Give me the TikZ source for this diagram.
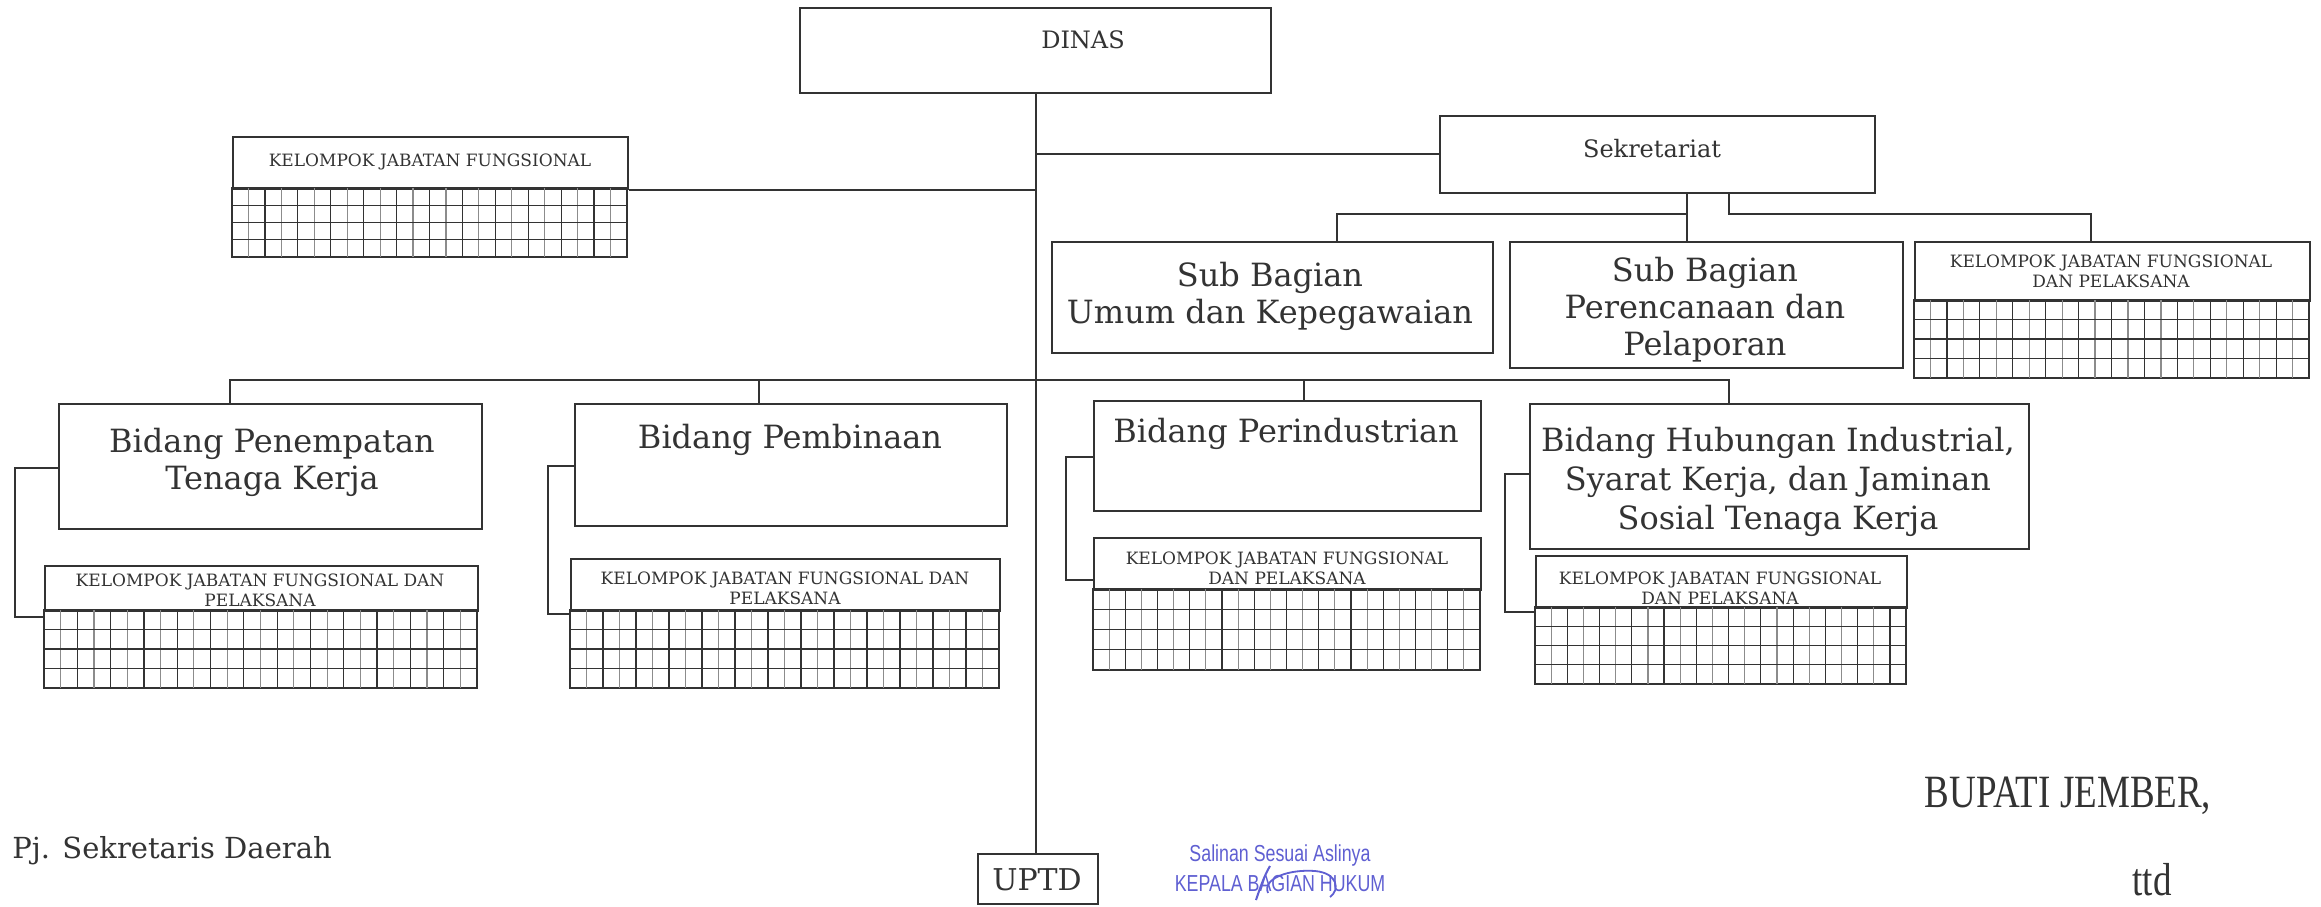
\documentclass[tikz,border=0pt]{standalone}
\usepackage{fontspec}
\usepackage{graphicx}
\setmainfont{DejaVu Serif}
\newfontfamily\timesf{Liberation Serif}
\newfontfamily\stampf{Liberation Sans}
\definecolor{ink}{gray}{0.2}
\definecolor{stampblue}{RGB}{95,95,210}
\newcommand\obox[5]{\node[box, minimum width={(#4-#2)*0.5pt}, minimum height={(#5-#3)*0.5pt}] (#1) at (#2,#3) {};}
\newcommand\ogrid[4]{%
  \draw[conn] (#1,#2) rectangle (#3,#4);
  \pgfmathtruncatemacro\gn{round((#3-#1)/16.4)}%
  \pgfmathtruncatemacro\gm{\gn-1}%
  \foreach \j in {1,...,\gm}{%
    \pgfmathsetmacro\gx{#1+(#3-#1)*\j/\gn}%
    \ifodd\j \draw[glight] (\gx,#2) -- (\gx,#4); \else \draw[gdark] (\gx,#2) -- (\gx,#4); \fi
  }%
  \foreach \k in {1,2,3}{%
    \pgfmathsetmacro\gy{#2+(#4-#2)*\k/4}%
    \draw[gdark] (#1,\gy) -- (#3,\gy);
  }%
}
\begin{document}
\begin{tikzpicture}[x=0.5pt,y=-0.5pt,
  box/.style={draw=ink, line width=0.9pt, rectangle, inner sep=0pt, anchor=north west},
  conn/.style={draw=ink, line width=0.9pt},
  big/.style={font=\fontsize{16}{18.5}\selectfont, text=ink, align=center, inner sep=0pt},
  mid/.style={font=\fontsize{12}{15}\selectfont, text=ink, inner sep=0pt},
  small/.style={font=\fontsize{8.5}{10}\selectfont, text=ink, align=center, inner sep=0pt},
  gdark/.style={draw=ink, line width=0.6pt},
  glight/.style={draw=black!45, line width=0.6pt},
  stamptext/.style={inner sep=0pt, text=stampblue, font=\stampf\fontsize{8.9}{10}\selectfont}]
\useasboundingbox (0,0) rectangle (2321,906);
\fill[white] (0,0) rectangle (2321,906);
\coordinate (cx) at (1036,0);

% top
\obox{dinas}{799}{7}{1270}{92}
\node[mid] (tdinas) at (1083,40) {DINAS};
\obox{sek}{1439}{115}{1874}{192}
\node[mid] (tsek) at (1652,149) {Sekretariat};
\obox{kjfA}{232}{136}{627}{188}
\node[small] (tkjfA) at (430,162) {KELOMPOK JABATAN FUNGSIONAL};
\ogrid{232}{188}{627}{257}

% sub bagian
\obox{umum}{1051}{241}{1492}{352}
\node[big] (tumum) at (1270,296) {Sub Bagian\\Umum dan Kepegawaian};
\obox{renc}{1509}{241}{1902}{367}
\node[big] (trenc) at (1705,310) {Sub Bagian\\Perencanaan dan\\Pelaporan};
\obox{kjfR}{1914}{241}{2309}{300}
\node[small] (tkjfR) at (2111,271) {KELOMPOK JABATAN FUNGSIONAL\\DAN PELAKSANA};
\ogrid{1914}{300}{2309}{378}

% bidang
\obox{bpen}{58}{403}{481}{528}
\node[big] (tbpen) at (272,462) {Bidang Penempatan\\Tenaga Kerja};
\obox{kpen}{44}{565}{477}{610}
\node[small] (tkpen) at (260,590) {KELOMPOK JABATAN FUNGSIONAL DAN\\PELAKSANA};
\ogrid{44}{610}{477}{688}

\obox{bpem}{574}{403}{1006}{525}
\node[big] (tbpem) at (790,440) {Bidang Pembinaan};
\obox{kpem}{570}{558}{999}{610}
\node[small] (tkpem) at (785,588) {KELOMPOK JABATAN FUNGSIONAL DAN\\PELAKSANA};
\ogrid{570}{610}{999}{688}

\obox{bind}{1093}{400}{1480}{510}
\node[big] (tbind) at (1286,434) {Bidang Perindustrian};
\obox{kind}{1093}{537}{1480}{589}
\node[small] (tkind) at (1287,568) {KELOMPOK JABATAN FUNGSIONAL\\DAN PELAKSANA};
\ogrid{1093}{589}{1480}{670}

\obox{bhub}{1529}{403}{2028}{548}
\node[big, font=\fontsize{16}{19.5}\selectfont] (tbhub) at (1778,482) {Bidang Hubungan Industrial,\\Syarat Kerja, dan Jaminan\\Sosial Tenaga Kerja};
\obox{khub}{1535}{555}{1906}{607}
\node[small] (tkhub) at (1720,588) {KELOMPOK JABATAN FUNGSIONAL\\DAN PELAKSANA};
\ogrid{1535}{607}{1906}{684}

% UPTD
\obox{uptd}{977}{853}{1097}{903}
\node[big, font=\fontsize{15}{18}\selectfont] (tuptd) at (1037,880) {UPTD};

% connectors
\coordinate (sj) at (1036,154);
\draw[conn] (dinas.south -| cx) -- (uptd.north -| cx);
\draw[conn] (sj) -- (sj -| sek.west);
\draw[conn] (kjfA.south east) -- (kjfA.south east -| cx);

\coordinate (s1) at (1337,214);
\coordinate (s2) at (1687,214);
\coordinate (s3) at (1729,214);
\coordinate (s4) at (2091,214);
\draw[conn] (s1 |- umum.north) -- (s1) -- (s2);
\draw[conn] (s2 |- sek.south) -- (s2 |- renc.north);
\draw[conn] (s3 |- sek.south) -- (s3) -- (s4) -- (s4 |- kjfR.north);

\coordinate (m1) at (230,380);
\coordinate (m2) at (759,380);
\coordinate (m3) at (1304,380);
\coordinate (m4) at (1729,380);
\draw[conn] (m1 |- bpen.north) -- (m1) -- (m4) -- (m4 |- bhub.north);
\draw[conn] (m2) -- (m2 |- bpem.north);
\draw[conn] (m3) -- (m3 |- bind.north);

\coordinate (k1a) at (15,468);   \coordinate (k1b) at (15,617);
\draw[conn] (k1a -| bpen.west) -- (k1a) -- (k1b) -- (k1b -| kpen.west);
\coordinate (k2a) at (548,466);  \coordinate (k2b) at (548,614);
\draw[conn] (k2a -| bpem.west) -- (k2a) -- (k2b) -- (k2b -| kpem.west);
\coordinate (k3a) at (1066,457); \coordinate (k3b) at (1066,580);
\draw[conn] (k3a -| bind.west) -- (k3a) -- (k3b) -- (k3b -| kind.west);
\coordinate (k4a) at (1505,474); \coordinate (k4b) at (1505,612);
\draw[conn] (k4a -| bhub.west) -- (k4a) -- (k4b) -- (k4b -| khub.west);

% bottom texts
\node[anchor=west, inner sep=0pt, text=ink, font=\fontsize{14.5}{17}\selectfont] (tpj) at (12,851) {Pj. Sekretaris Daerah};
\node[inner sep=0pt, text=ink, font=\timesf\fontsize{18.5}{22}\selectfont] (tbup) at (2068,796) {\scalebox{1}[1.25]{BUPATI JEMBER,}};
\node[inner sep=0pt, text=ink, font=\timesf\fontsize{18.5}{22}\selectfont] (tttd) at (2152,880) {\scalebox{1}[1.25]{ttd}};

% stamp
\node[stamptext] (tsal) at (1280,855) {\scalebox{1}[1.3]{Salinan Sesuai Aslinya}};
\node[stamptext] (tkep) at (1280,884) {\scalebox{1}[1.3]{KEPALA BAGIAN HUKUM}};
\draw[stampblue, line width=1pt] (1256,900) .. controls (1260,888) and (1264,876) .. (1270,866);
\draw[stampblue, line width=0.9pt] (1268,893) .. controls (1262,878) and (1290,869) .. (1315,871) .. controls (1338,873) and (1340,890) .. (1330,897);
\end{tikzpicture}
\end{document}
